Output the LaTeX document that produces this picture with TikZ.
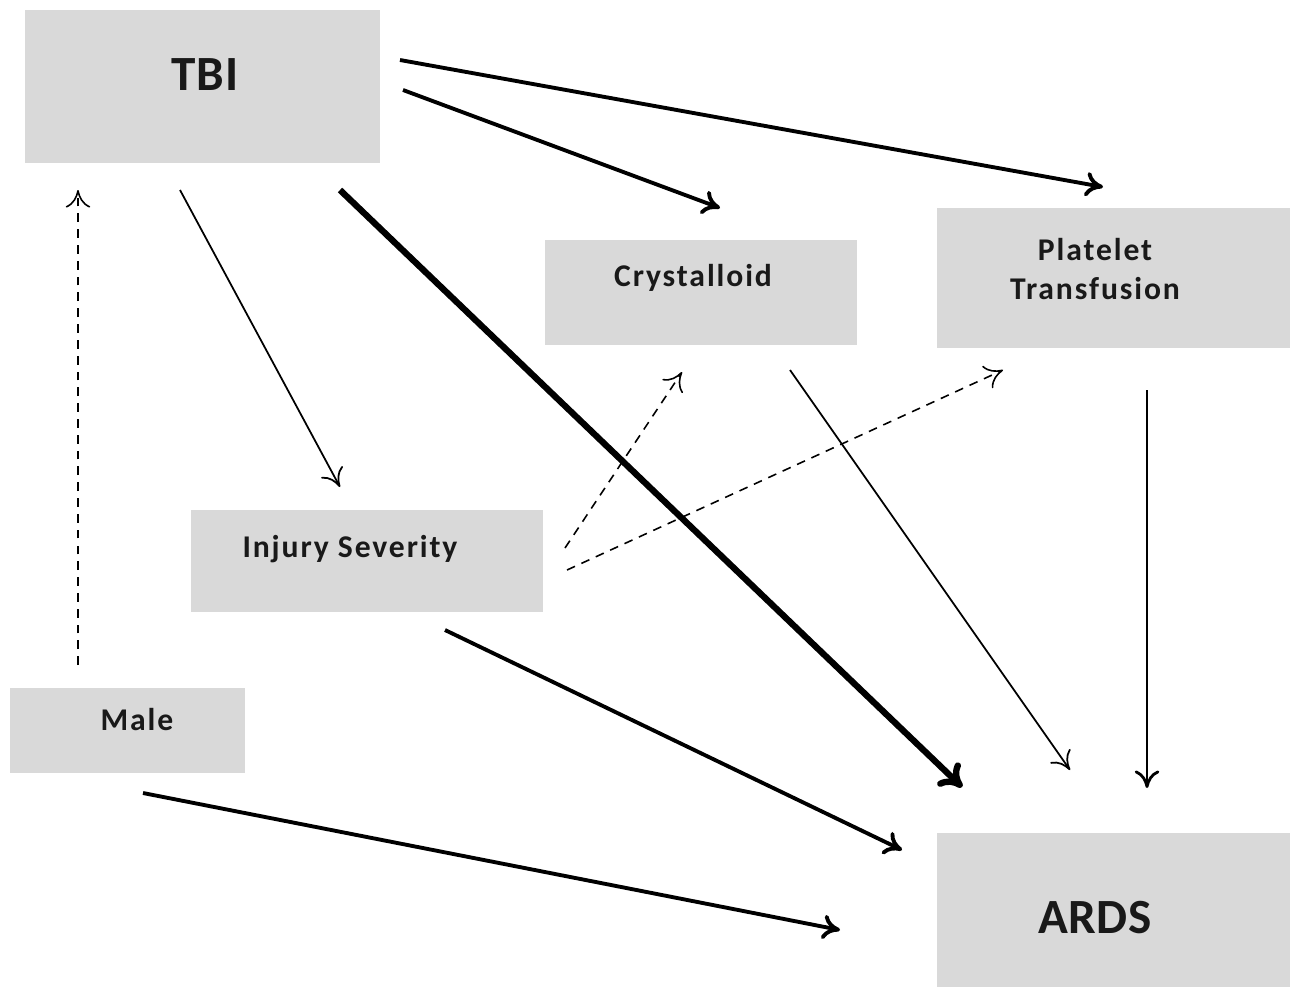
\documentclass[tikz,border=0pt]{standalone}
\usepackage{fontspec}
\setmainfont{Carlito}
\newfontfamily\boxfont[LetterSpace=6]{Carlito}
\newfontfamily\bigfont[LetterSpace=1.5]{Carlito}
\usepackage{tikz}
\usetikzlibrary{arrows.meta}
\definecolor{boxgray}{RGB}{217,217,217}

\begin{document}
\begin{tikzpicture}[>={To[length=5pt,width=7pt]},
    box/.style={fill=boxgray,draw=none,inner sep=0pt},
    lbl/.style={font=\boxfont\bfseries\fontsize{9}{11}\selectfont,align=center,text=black!90},
    big/.style={font=\bigfont\bfseries\fontsize{14}{16}\selectfont,text=black!90},
    thin/.style={line width=0.5pt,->},
    thick/.style={line width=1.1pt,->},
    dsh/.style={line width=0.45pt,->,dash pattern=on 2.5pt off 2pt}]
    \useasboundingbox (0,0) rectangle (13,9.89);

    \node[box,minimum width=3.55cm,minimum height=1.53cm,label={[big,xshift=0.025cm,yshift=0.115cm]center:TBI}] (tbi) at (2.025,9.025) {};
    \node[box,minimum width=3.12cm,minimum height=1.05cm,label={[lbl,xshift=-0.08cm,yshift=0.145cm]center:Crystalloid}] (cryst) at (7.01,6.965) {};
    \node[box,minimum width=3.53cm,minimum height=1.40cm,label={[lbl,xshift=-0.185cm,yshift=0.09cm]center:Platelet\\Transfusion}] (plt) at (11.135,7.11) {};
    \node[box,minimum width=3.52cm,minimum height=1.02cm,label={[lbl,xshift=-0.17cm,yshift=0.12cm]center:Injury Severity}] (iss) at (3.67,4.28) {};
    \node[box,minimum width=2.35cm,minimum height=0.85cm,label={[lbl,xshift=0.095cm,yshift=0.105cm]center:Male}] (male) at (1.275,2.585) {};
    \node[box,minimum width=3.53cm,minimum height=1.54cm,label={[big,xshift=-0.185cm,yshift=-0.08cm]center:ARDS}] (ards) at (11.135,0.79) {};

 %   arrow ends
    \coordinate (tbi-a) at (4.00,9.29);   \coordinate (plt-a) at (11.03,8.02);
    \coordinate (tbi-b) at (4.03,8.99);   \coordinate (cryst-a) at (7.20,7.81);
    \coordinate (tbi-c) at (1.80,7.99);   \coordinate (iss-a) at (3.40,5.02);
    \coordinate (tbi-d) at (3.40,7.99);   \coordinate (ards-a) at (9.62,2.02);
    \coordinate (male-a) at (0.78,3.24);  \coordinate (tbi-e) at (0.78,7.99);
    \coordinate (iss-b) at (5.65,4.41);   \coordinate (cryst-b) at (6.82,6.17);
    \coordinate (iss-c) at (5.67,4.19);   \coordinate (plt-b) at (10.03,6.19);
    \coordinate (cryst-c) at (7.90,6.19); \coordinate (ards-b) at (10.70,2.19);
    \coordinate (plt-c) at (11.47,5.99);  \coordinate (ards-c) at (11.47,2.01);
    \coordinate (iss-d) at (4.45,3.59);   \coordinate (ards-d) at (9.02,1.39);
    \coordinate (male-b) at (1.43,1.96);  \coordinate (ards-e) at (8.40,0.59);

    \draw[thick] (tbi-a) -- (plt-a);
    \draw[thick] (tbi-b) -- (cryst-a);
    \draw[thin] (tbi-c) -- (iss-a);
    \draw[line width=1.8pt,->,>={To[length=6pt,width=9pt]}] (tbi-d) -- (ards-a);
    \draw[dsh] (male-a) -- (tbi-e);
    \draw[dsh] (iss-b) -- (cryst-b);
    \draw[dsh] (iss-c) -- (plt-b);
    \draw[thin] (cryst-c) -- (ards-b);
    \draw[line width=0.8pt,->] (plt-c) -- (ards-c);
    \draw[thick] (iss-d) -- (ards-d);
    \draw[thick] (male-b) -- (ards-e);

   \end{tikzpicture}
\end{document}
